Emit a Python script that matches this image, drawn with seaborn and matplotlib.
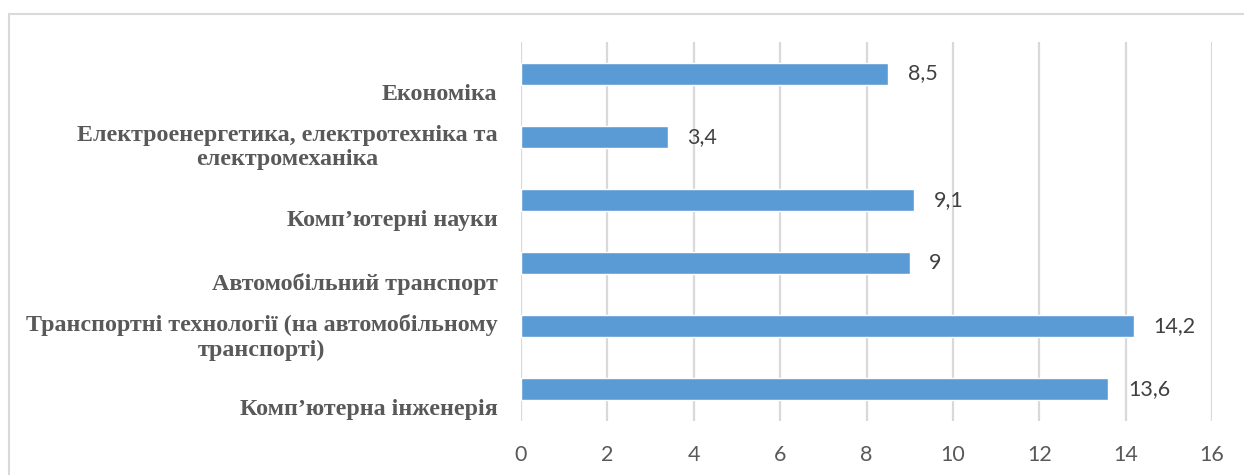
import matplotlib
matplotlib.use('Agg')
import matplotlib.pyplot as plt
import matplotlib.transforms as mtransforms
from matplotlib.lines import Line2D
import pandas as pd
import seaborn as sns

categories = ['Економіка',
              'Електроенергетика, електротехніка та\nелектромеханіка',
              'Комп’ютерні науки',
              'Автомобільний транспорт',
              'Транспортні технології (на автомобільному\nтранспорті)',
              'Комп’ютерна інженерія']
values = [8.5, 3.4, 9.1, 9, 14.2, 13.6]
value_labels = ['8,5', '3,4', '9,1', '9', '14,2', '13,6']
x_ticks = [0, 2, 4, 6, 8, 10, 12, 14, 16]

sns.set_style('white')
plt.rcParams['font.family'] = ['Lato', 'DejaVu Sans']

df = pd.DataFrame({'category': categories, 'value': values})

fig = plt.figure(figsize=(12.44, 4.75), dpi=100)
ax = fig.add_axes([0.4188, 0.1137, 0.5555, 0.7979])

sns.barplot(data=df, x='value', y='category', orient='h', color='#5B9BD5',
            width=0.35, saturation=1, ax=ax)

ax.set_xlim(0, 16)
ax.set_xticks(x_ticks)
ax.set_xticklabels([str(t) for t in x_ticks])
ax.set_xlabel('')
ax.set_ylabel('')
ax.grid(axis='x', color='#D9D9D9', linewidth=1.6)
ax.set_axisbelow(True)
for s in ax.spines.values():
    s.set_visible(False)
ax.tick_params(axis='x', length=0, pad=17, labelsize=15.5, labelcolor='#595959')
ax.tick_params(axis='y', length=0, pad=17)

ax.bar_label(ax.containers[0], labels=value_labels, padding=14,
             fontsize=15.5, color='#404040')

# category labels: bold serif, slightly lowered like the original
for lab in ax.get_yticklabels():
    lab.set_fontfamily('Liberation Serif')
    lab.set_fontweight('bold')
    lab.set_fontsize(17.3)
    lab.set_color('#595959')
    lab.set_multialignment('center')
    dy = 7 if '\n' in lab.get_text() else 18
    lab.set_transform(lab.get_transform() +
                      mtransforms.ScaledTranslation(0, -dy / 100, fig.dpi_scale_trans))

# outer chart frame
fig.add_artist(Line2D([8.5 / 1244, 8.5 / 1244], [0, 1 - 13.5 / 475],
                      transform=fig.transFigure, color='#D9D9D9', lw=1.5))
fig.add_artist(Line2D([8.5 / 1244, 1], [1 - 13.5 / 475, 1 - 13.5 / 475],
                      transform=fig.transFigure, color='#D9D9D9', lw=1.5))

plt.savefig('out.png', dpi=100)
plt.close()
